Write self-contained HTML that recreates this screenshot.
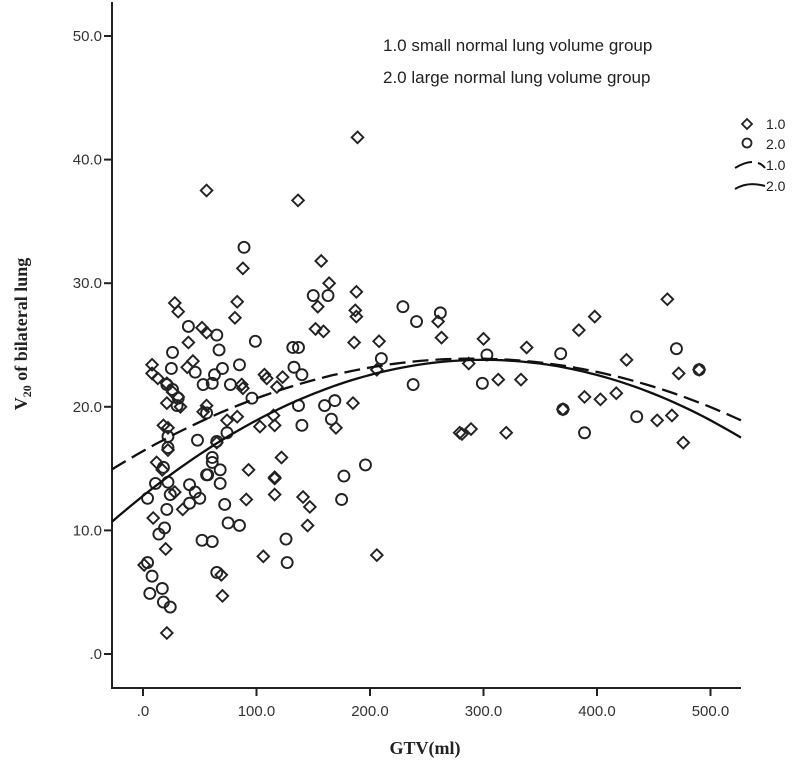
<!DOCTYPE html>
<html><head><meta charset="utf-8"><style>
html,body{margin:0;padding:0;background:#fff;}
svg{display:block;font-family:"Liberation Sans",sans-serif;}
</style></head><body>
<svg id="chart" width="800" height="773" viewBox="0 0 800 773"></svg>
<script>
const xTicks=[0,100,200,300,400,500];
const xTickLabels=[".0","100.0","200.0","300.0","400.0","500.0"];
const yTicks=[0,10,20,30,40,50];
const yTickLabels=[".0","10.0","20.0","30.0","40.0","50.0"];
const g1gtv=[462,398,384,300,338,426,472,490,313,333,389,403,417,370,453,466,476,289,281,320,287,
189,136.6,157,164,154,188,187,188,152,159,186,208,263,260,206,123,118,185,170,115,122,116,116,141,147,145,206,279,
28,31,83,81,52,56,40,44,39,8,8,13,21,26,31,21,33,56,53,87,88,107,109,83,74,116,103,18,22,22,12,17,93,116,65,
9,20,1,69,70,21,106,91,35,28,56,88];
const g1v=[28.7,27.3,26.2,25.5,24.8,23.8,22.7,23.0,22.2,22.2,20.8,20.6,21.1,19.8,18.9,19.3,17.1,18.2,17.8,17.9,23.5,
41.8,36.7,31.8,30.0,28.1,29.3,27.8,27.3,26.3,26.1,25.2,25.3,25.6,26.9,23.0,22.4,21.6,20.3,18.3,19.3,15.9,14.2,12.9,12.7,11.9,10.4,8.0,17.9,
28.4,27.7,28.5,27.2,26.4,26.0,25.2,23.7,23.2,23.4,22.7,22.3,21.9,21.2,20.8,20.3,20.0,20.1,19.6,21.8,21.5,22.6,22.3,19.2,18.9,18.5,18.4,18.5,18.3,16.5,15.5,14.9,14.9,14.3,17.1,
11.0,8.5,7.2,6.4,4.7,1.7,7.9,12.5,11.7,13.1,37.5,31.2];
const g2gtv=[368,470,299,389,435,370,303,490,
150,163,229,241,262,132,137,133,140,210,238,137,160,169,166,140,196,177,175,126,127,
40,65,99,67,26,25,46,70,85,63,53,61,77,21,26,31,30,96,56,22,22,48,65,74,61,61,68,57,18,
11,4,22,24,41,46,50,41,21,72,19,14,52,61,75,85,56,68,4,8,6,17,18,24,65,89];
const g2v=[24.3,24.7,21.9,17.9,19.2,19.8,24.2,23.0,
29.0,29.0,28.1,26.9,27.6,24.8,24.8,23.2,22.6,23.9,21.8,20.1,20.1,20.5,19.0,18.5,15.3,14.4,12.5,9.3,7.4,
26.5,25.8,25.3,24.6,24.4,23.1,22.8,23.1,23.4,22.6,21.8,21.9,21.8,21.8,21.4,20.7,20.1,20.7,19.5,17.6,16.7,17.3,17.2,17.9,15.9,15.5,14.9,14.5,15.1,
13.8,12.6,13.9,12.9,13.7,13.1,12.6,12.2,11.7,12.1,10.2,9.7,9.2,9.1,10.6,10.4,14.5,13.8,7.4,6.3,4.9,5.3,4.2,3.8,6.6,32.9];
// quadratic fit parameters: [vertexX, vertexY, curvature]
const fit1=[290,23.9,-0.000089];
const fit2=[300,23.8,-0.0001223];

const NS="http://www.w3.org/2000/svg";
const svg=document.getElementById('chart');
const X0=143,XS=1.135,Y0=654,YS=12.36;
const PL=112,PR=741,PT=2,PB=688;
function sx(v){return X0+v*XS;}
function sy(v){return Y0-v*YS;}
function el(t,a,p){const e=document.createElementNS(NS,t);for(const k in a)e.setAttribute(k,a[k]);(p||svg).appendChild(e);return e;}

const ax=el('path',{d:`M${PL} ${PT} V${PB} H${PR}`,fill:'none',stroke:'#222','stroke-width':2});


xTicks.forEach((t,i)=>{
  const x=sx(t);
  const l=el('line',{x1:x,x2:x,y1:PB,y2:PB+8,stroke:'#222','stroke-width':2});
  
  
  const tx=el('text',{x:x,y:PB+28,'text-anchor':'middle','font-size':15,fill:'#333'});
  tx.textContent=xTickLabels[i];
  
  
});
yTicks.forEach((t,i)=>{
  const y=sy(t);
  const l=el('line',{x1:PL-8,x2:PL,y1:y,y2:y,stroke:'#222','stroke-width':2});
  
  
  const tx=el('text',{x:PL-10,y:y+5,'text-anchor':'end','font-size':15,fill:'#333'});
  tx.textContent=yTickLabels[i];
  
  
});

function diamond(x,y,p){const d=5.8;return el('path',{d:`M${x} ${y-d}L${x+d} ${y}L${x} ${y+d}L${x-d} ${y}Z`,fill:'none',stroke:'#222','stroke-width':1.9},p);}
const gp1=el('g',{});


g1gtv.forEach((v,i)=>{
  const m=diamond(sx(v),sy(g1v[i]),gp1);
  
  
});
const gp2=el('g',{});


g2gtv.forEach((v,i)=>{
  const m=el('circle',{cx:sx(v),cy:sy(g2v[i]),r:5.5,fill:'none',stroke:'#222','stroke-width':1.9},gp2);
  
  
});

function curve(f){
  let d='';const x1=(PL-X0)/XS,x2=(PR-X0)/XS;
  for(let i=0;i<=100;i++){const x=x1+(x2-x1)*i/100;const y=f[1]+f[2]*(x-f[0])*(x-f[0]);d+=(i?'L':'M')+sx(x).toFixed(1)+' '+sy(y).toFixed(1);}
  return d;
}
const c1=el('path',{d:curve(fit1),fill:'none',stroke:'#111','stroke-width':2.3,'stroke-dasharray':'16,7'});


const c2=el('path',{d:curve(fit2),fill:'none',stroke:'#111','stroke-width':2.3});


</script>
<svg width="800" height="773" style="position:absolute;left:0;top:0">
  <text x="383" y="51" font-size="17" fill="#222" font-family="Liberation Sans, sans-serif">1.0 small normal lung volume group</text>
  <text x="383" y="83" font-size="17" fill="#222" font-family="Liberation Sans, sans-serif">2.0 large normal lung volume group</text>
  <g font-family="Liberation Sans, sans-serif" font-size="14" fill="#222">
    <path d="M747 119L752 124L747 129L742 124Z" fill="none" stroke="#222" stroke-width="1.8"/>
    <text x="766" y="129">1.0</text>
    <circle cx="747" cy="143" r="4.5" fill="none" stroke="#222" stroke-width="1.8"/>
    <text x="766" y="149">2.0</text>
    <path d="M735 168Q745 162 752 162 M758 163Q762 164 765 168" fill="none" stroke="#111" stroke-width="2"/>
    <text x="766" y="170">1.0</text>
    <path d="M735 189Q748 181 765 186" fill="none" stroke="#111" stroke-width="2"/>
    <text x="766" y="191">2.0</text>
  </g>
  <text x="425" y="754" text-anchor="middle" font-size="18" font-weight="bold" fill="#222" font-family="Liberation Serif, serif">GTV(ml)</text>
  <text transform="translate(27,334) rotate(-90)" text-anchor="middle" font-size="18" font-weight="bold" fill="#222" font-family="Liberation Serif, serif">V<tspan font-size="12" dy="4">20</tspan><tspan dy="-4"> of bilateral lung</tspan></text>
</svg>
</body></html>
